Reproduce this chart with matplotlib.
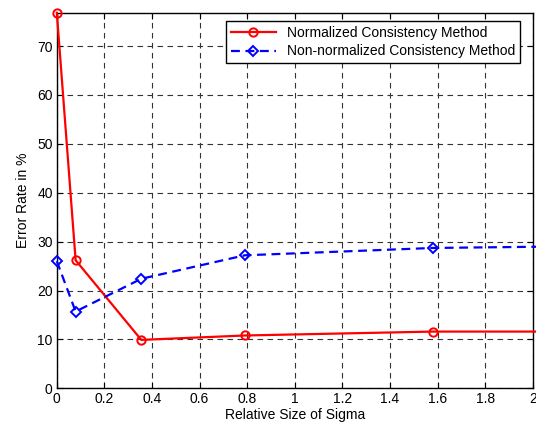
import numpy as np
import matplotlib
matplotlib.use("Agg")
import matplotlib.pyplot as plt

plt.rcParams['font.family'] = ['Liberation Sans', 'DejaVu Sans']

# relative size of sigma
sigma = [0.0, 0.079, 0.355, 0.79, 1.58, 3.16]
# error rates in %
normalized = [76.8, 26.2, 9.9, 10.8, 11.6, 11.6]
non_normalized = [26.0, 15.7, 22.4, 27.2, 28.7, 29.6]

fig = plt.figure(figsize=(5.36, 4.26), dpi=100)
ax = fig.add_axes([0.106, 0.0885, 0.888, 0.8815])

ax.plot(sigma, normalized, color='red', lw=1.6, marker='o', ms=6,
        mfc='none', mec='red', mew=1.4, label='Normalized Consistency Method',
        zorder=3)
ax.plot(sigma, non_normalized, color='blue', lw=1.6, ls=(0, (4, 2.5)), marker='D', ms=5.5,
        mfc='none', mec='blue', mew=1.4, label='Non-normalized Consistency Method',
        zorder=3)
for ln in ax.lines:
    ln.set_clip_on(False)

ax.set_xlim(0, 2)
ax.set_ylim(0, 76.8)
ax.set_xticks(np.arange(0, 2.01, 0.2))
ax.set_xticklabels(['0', '0.2', '0.4', '0.6', '0.8', '1', '1.2', '1.4', '1.6', '1.8', '2'])
ax.set_yticks(np.arange(0, 71, 10))
ax.tick_params(direction='in', top=True, right=True, labelsize=10, length=4, pad=3)
ax.grid(True, color='#333333', ls=(0, (5, 4)), lw=0.8)
for s in ax.spines.values():
    s.set_linewidth(1.0)

ax.set_xlabel('Relative Size of Sigma', fontsize=10, labelpad=1)
ax.set_ylabel('Error Rate in %', fontsize=10, labelpad=5)

leg = ax.legend(loc='upper right', fontsize=10, fancybox=False, framealpha=1,
                edgecolor='black', borderpad=0.35, handlelength=3.2,
                labelspacing=0.35, borderaxespad=0, bbox_to_anchor=(0.973, 0.979))
leg.get_frame().set_linewidth(1.0)

fig.savefig('out.png', dpi=100)
